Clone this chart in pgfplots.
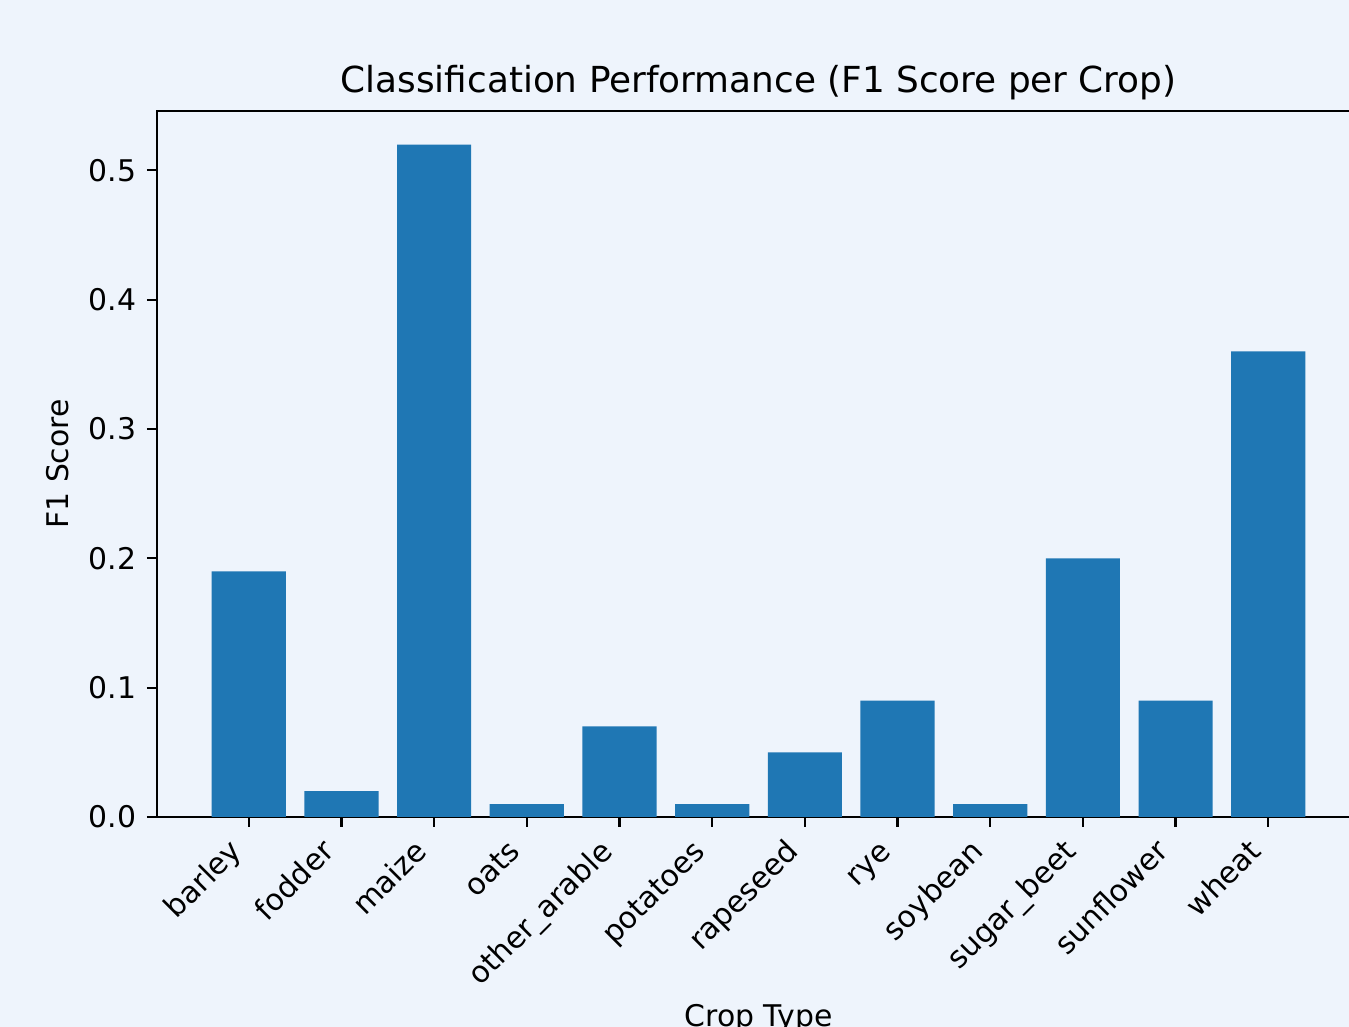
\documentclass[border=0pt]{standalone}
\usepackage{pgfplots}
\pgfplotsset{compat=1.18}
\usepackage{fontspec}
\setmainfont{DejaVu Sans}
\definecolor{bgc}{HTML}{EEF4FC}
\definecolor{barc}{HTML}{1F77B4}
\begin{document}
\begin{tikzpicture}
\useasboundingbox (0,0) rectangle (485.64pt,369.72pt);
\fill[bgc] (0,0) rectangle (485.64pt,369.72pt);
\clip (0,0) rectangle (485.64pt,369.72pt);
\begin{axis}[
  at={(56.52pt,75.6pt)}, anchor=south west,
  scale only axis, width=433.1pt, height=254.2pt,
  axis background/.style={fill=bgc},
  axis line style={line width=0.8pt, black},
  xmin=-0.99, xmax=11.99, ymin=0, ymax=0.546,
  xtick={0,...,11},
  xticklabels={barley,fodder,maize,oats,other\_arable,potatoes,rapeseed,rye,soybean,sugar\_beet,sunflower,wheat},
  ytick={0,0.1,0.2,0.3,0.4,0.5},
  tick align=outside, xtick pos=bottom, ytick pos=left,
  major tick length=3.6pt,
  tick style={line width=0.8pt, black},
  /pgf/number format/assume math mode=true,
  /pgf/number format/fixed, /pgf/number format/fixed zerofill, /pgf/number format/precision=1,
  ticklabel style={font=\fontsize{10.75}{13}\selectfont},
  xticklabel style={anchor=east, inner sep=0pt, text height=8.2pt, text depth=2.55pt, xshift=-3.8pt, yshift=-7.3pt, rotate=45},
  yticklabel style={inner sep=0pt, xshift=-3.6pt},
  title={Classification Performance (F1 Score per Crop)},
  every axis title/.style={font=\fontsize{12.9}{15}\selectfont, at={(axis description cs:0.5,1)}, anchor=base, inner sep=0pt, yshift=6.8pt},
  xlabel={Crop Type},
  xlabel style={font=\fontsize{10.75}{13}\selectfont, at={(axis description cs:0.5,-0.296)}, anchor=base, inner sep=0pt},
  ylabel={F1 Score},
  ylabel style={font=\fontsize{10.75}{13}\selectfont, at={(axis description cs:-0.0823,0.5)}, anchor=center, inner sep=0pt},
  clip=false,
]
\addplot[ybar, bar width=0.8, fill=barc, draw=none] coordinates {
(0,0.19) (1,0.02) (2,0.52) (3,0.01) (4,0.07) (5,0.01) (6,0.05) (7,0.09) (8,0.01) (9,0.20) (10,0.09) (11,0.36)
};
\end{axis}
\end{tikzpicture}
\end{document}
